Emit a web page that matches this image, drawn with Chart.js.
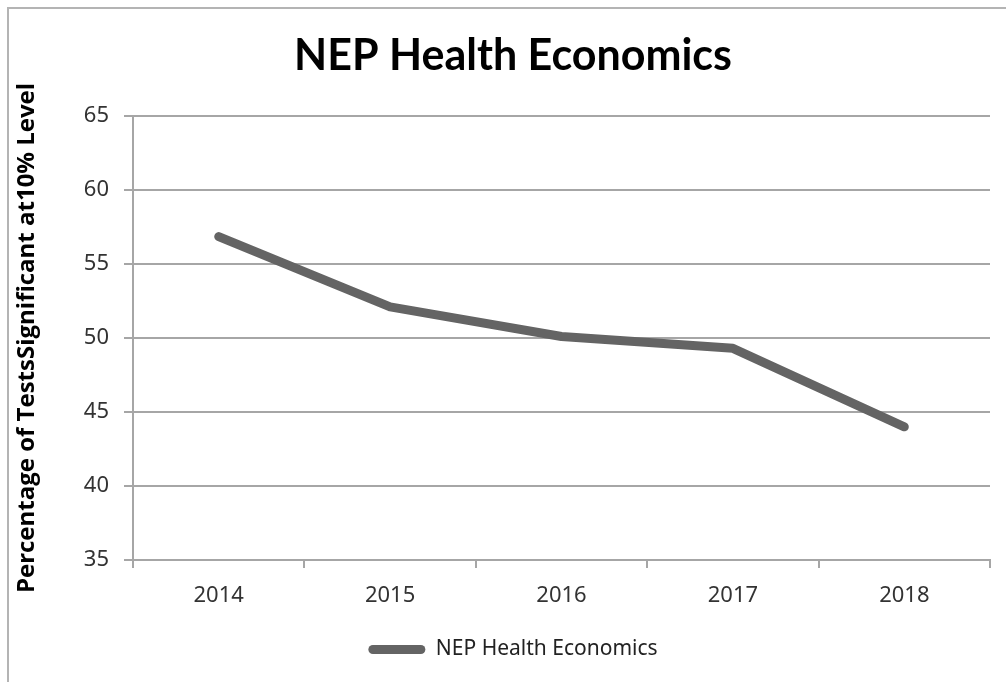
<!DOCTYPE html>
<html>
<head>
<meta charset="utf-8">
<script src="https://cdn.jsdelivr.net/npm/chart.js@4/dist/chart.umd.min.js"></script>
<style>
  html, body { margin: 0; padding: 0; background: #fff; }
  #wrap { position: relative; width: 1006px; height: 682px; overflow: hidden; }
  #frame { position: absolute; left: 7px; top: 7px; width: 1100px; height: 800px;
           border-top: 2px solid #b4b4b4; border-left: 2px solid #b4b4b4; }
  canvas { position: absolute; left: 0; top: 0; }
</style>
</head>
<body>
<div id="wrap">
  <div id="frame"></div>
  <canvas id="lineChart" width="1006" height="682"></canvas>
</div>
<script>
(function () {
    "use strict";

    var years = [ "2014", "2015", "2016", "2017", "2018" ];
    var nepValues = [ 56.85, 52.1, 50.1, 49.3, 44.0 ];
    var yTicks = [ 35, 40, 45, 50, 55, 60, 65 ];

    var lineColor = "#646464";
    var gridColor = "#a6a6a6";

    var ctx = document.getElementById( "lineChart" );
    var myChart = new Chart( ctx, {
        type: 'line',
        data: {
            labels: years,
            datasets: [
                {
                    label: "NEP Health Economics",
                    data: nepValues,
                    borderColor: lineColor,
                    backgroundColor: lineColor,
                    borderWidth: 9,
                    borderCapStyle: 'round',
                    borderJoinStyle: 'round',
                    pointRadius: 0,
                    tension: 0
                }
            ]
        },
        options: {
            responsive: false,
            animation: false,
            layout: {
                padding: { left: 36, right: 16, top: 0, bottom: 12 }
            },
            plugins: {
                title: {
                    display: true,
                    text: "NEP Health Economics",
                    color: "#000",
                    font: { family: "Lato", weight: "bold", size: 43, lineHeight: 1 },
                    padding: { top: 35, bottom: 38 }
                },
                legend: {
                    position: 'bottom',
                    labels: {
                        color: "#222",
                        font: { family: "Noto Sans", size: 21 },
                        boxWidth: 57,
                        boxHeight: 9,
                        useBorderRadius: true,
                        borderRadius: 4.5,
                        padding: 10,
                        generateLabels: function ( chart ) {
                            return [ {
                                text: chart.data.datasets[0].label,
                                fillStyle: lineColor,
                                strokeStyle: lineColor,
                                lineWidth: 0,
                                fontColor: "#222",
                                borderRadius: 4.5,
                                datasetIndex: 0
                            } ];
                        }
                    }
                },
                tooltip: { enabled: false }
            },
            scales: {
                x: {
                    offset: true,
                    grid: {
                        offset: true,
                        drawOnChartArea: false,
                        drawTicks: true,
                        tickLength: 8,
                        color: gridColor,
                        lineWidth: 2
                    },
                    border: { color: gridColor, width: 2 },
                    ticks: {
                        color: "#333",
                        font: { family: "Noto Sans", size: 22 },
                        padding: 15,
                        maxRotation: 0
                    },
                    afterFit: function ( scale ) { scale.height = 69; }
                },
                y: {
                    min: 35,
                    max: 65,
                    afterBuildTicks: function ( scale ) {
                        scale.ticks = yTicks.map( function ( v ) { return { value: v }; } );
                    },
                    grid: {
                        color: gridColor,
                        lineWidth: 2,
                        tickLength: 9
                    },
                    border: { color: gridColor, width: 2 },
                    ticks: {
                        color: "#333",
                        font: { family: "Noto Sans", size: 22 },
                        padding: 15
                    },
                    title: {
                        display: true,
                        text: "Percentage of TestsSignificant at10% Level",
                        color: "#000",
                        font: { family: "Open Sans", weight: "bold", size: 24, lineHeight: 1.2 },
                        padding: { top: -23, bottom: 0 }
                    },
                    afterFit: function ( scale ) { scale.width = 97; }
                }
            }
        }
    });

})();
</script>
</body>
</html>
